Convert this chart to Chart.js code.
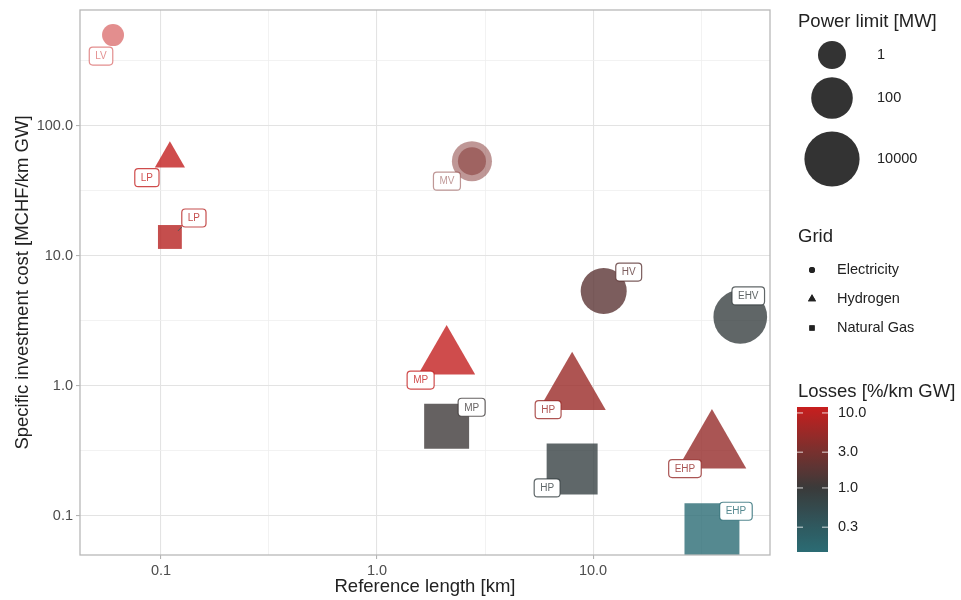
<!DOCTYPE html>
<html>
<head>
<meta charset="utf-8">
<script src="https://cdn.jsdelivr.net/npm/chart.js@4.4.1/dist/chart.umd.min.js"></script>
<style>
  html, body { margin: 0; padding: 0; background: #ffffff; }
  #wrap { width: 961px; height: 600px; position: relative; }
</style>
</head>
<body>
<div id="wrap"><canvas id="chart" width="961" height="600"></canvas></div>
<script>
// ---- data: one entry per grid level ----
const levels     = ['LV', 'LP', 'LP', 'MV', 'MV', 'HV', 'EHV', 'MP', 'MP', 'HP', 'HP', 'EHP', 'EHP'];
const grids      = ['Electricity', 'Hydrogen', 'Natural Gas', 'Electricity', 'Electricity', 'Electricity',
                    'Electricity', 'Hydrogen', 'Natural Gas', 'Hydrogen', 'Natural Gas', 'Hydrogen', 'Natural Gas'];
const refLength  = [0.06, 0.11, 0.11, 2.75, 2.75, 11.2, 48, 2.1, 2.1, 8.0, 8.0, 35.5, 35.5];        // km
const invCost    = [500, 56, 14, 53.6, 53.6, 5.37, 3.4, 1.64, 0.49, 0.92, 0.23, 0.33, 0.077];     // MCHF/km GW
const powerLimit = [0.13, 0.15, 0.7, 60, 1, 450, 6000, 130, 2200, 1700, 22000, 2400, 100000];    // MW
const lossRate   = [12, 11, 9, 3.5, 3.5, 1.8, 0.8, 11, 1.1, 5.5, 0.75, 5, 0.14];                 // %/km GW

// ---- axis and legend breaks ----
const gridTypes   = ['Electricity', 'Hydrogen', 'Natural Gas'];
const xBreaks     = [0.1, 1, 10];
const yBreaks     = [0.1, 1, 10, 100];
const sizeBreaks  = [1, 100, 10000];
const lossBreaks  = [10, 3, 1, 0.3];

// ---- styling ----
const FONT = "'Liberation Sans', Arial, Helvetica, sans-serif";
const xLimits = [0.0422, 65.9];
const yLimits = [0.0501, 780];
const shapeOf = { 'Electricity': 'circle', 'Hydrogen': 'triangle', 'Natural Gas': 'rect' };
// equal-area scaling so the three marker shapes read the same size
const shapeScale = { circle: 1, triangle: 1.5551, rect: 1.2533 };
const translucentLevels = new Set(['LV', 'MV']);
// label placement relative to its marker (px) and whether a leader line is drawn
const labelOffset = [[-12, 21], [-23, 19], [24, -19], [-25, 20], null, [25, -19], [8, -21],
                     [-26, 22], [25, -19], [-24, 19], [-25, 19], [-27, 20], [24, -19.5]];
const labelLeader = [false, false, true, false, false, false, false, false, false, false, false, false, false];

function sizeRadius(p) { return 14 + 3.4 * Math.log10(p); }

const lossMin = Math.min(...lossRate), lossMax = Math.max(...lossRate);
// diverging palette: teal (low) -> dark grey (1 %) -> red (high), on log scale
const paletteStops = [
  [Math.log10(lossMin), [43, 108, 116]],
  [-0.5, [47, 88, 94]],
  [0, [58, 58, 58]],
  [0.5, [122, 48, 46]],
  [Math.log10(lossMax), [200, 30, 30]]
];
function lossRGB(v) {
  const l = Math.max(paletteStops[0][0], Math.min(paletteStops[paletteStops.length - 1][0], Math.log10(v)));
  for (let k = 0; k < paletteStops.length - 1; k++) {
    const [a, ca] = paletteStops[k], [b, cb] = paletteStops[k + 1];
    if (l >= a && l <= b) {
      const t = (l - a) / (b - a);
      return ca.map((c, j) => Math.round(c + (cb[j] - c) * t));
    }
  }
  return paletteStops[paletteStops.length - 1][1];
}
function pointColor(i) {
  const [r, g, b] = lossRGB(lossRate[i]);
  const a = translucentLevels.has(levels[i]) ? 0.5 : 0.8;
  return `rgba(${r},${g},${b},${a})`;
}
function markerRadius(i) {
  return sizeRadius(powerLimit[i]) * shapeScale[shapeOf[grids[i]]];
}

const datasets = gridTypes.map(gt => ({
  label: gt,
  data: levels.map((_, i) => i).filter(i => grids[i] === gt).map(i => ({ x: refLength[i], y: invCost[i], i })),
  pointStyle: shapeOf[gt],
  pointRadius: ctx => markerRadius(ctx.raw.i),
  backgroundColor: ctx => pointColor(ctx.raw.i),
  borderWidth: 0,
  clip: 0
}));

const isMajor = (v, majors) => majors.some(m => Math.abs(Math.log10(v) - Math.log10(m)) < 1e-6);
function logTicks(lo, hi) {
  const out = [];
  for (let e = Math.floor(Math.log10(lo)) - 1; e <= Math.ceil(Math.log10(hi)); e += 0.5) {
    const v = Math.pow(10, e);
    if (v >= lo && v <= hi) out.push(v);
  }
  return out;
}

function roundRect(ctx, x, y, w, h, r) {
  ctx.beginPath();
  ctx.moveTo(x + r, y);
  ctx.lineTo(x + w - r, y); ctx.arcTo(x + w, y, x + w, y + r, r);
  ctx.lineTo(x + w, y + h - r); ctx.arcTo(x + w, y + h, x + w - r, y + h, r);
  ctx.lineTo(x + r, y + h); ctx.arcTo(x, y + h, x, y + h - r, r);
  ctx.lineTo(x, y + r); ctx.arcTo(x, y, x + r, y, r);
  ctx.closePath();
}

const decorations = {
  id: 'decorations',
  afterDatasetsDraw(chart) {
    const ctx = chart.ctx, area = chart.chartArea;
    // level labels
    ctx.save();
    ctx.font = `10px ${FONT}`;
    chart.data.datasets.forEach((ds, d) => {
      chart.getDatasetMeta(d).data.forEach((el, k) => {
        const i = ds.data[k].i;
        const off = labelOffset[i];
        if (!off) return;
        const cx = el.x + off[0], cy = el.y + off[1];
        const tw = ctx.measureText(levels[i]).width;
        const w = tw + 12, h = 18;
        const col = pointColor(i);
        if (labelLeader[i]) {
          ctx.strokeStyle = '#555';
          ctx.lineWidth = 1;
          ctx.beginPath();
          ctx.moveTo(el.x + 8, el.y - 6);
          ctx.lineTo(cx - w / 2, cy + h / 2);
          ctx.stroke();
        }
        roundRect(ctx, cx - w / 2, cy - h / 2, w, h, 3.5);
        ctx.fillStyle = '#ffffff';
        ctx.fill();
        ctx.strokeStyle = col;
        ctx.lineWidth = 1.2;
        ctx.stroke();
        ctx.fillStyle = col;
        ctx.textAlign = 'center';
        ctx.textBaseline = 'middle';
        ctx.fillText(levels[i], cx, cy + 0.5);
      });
    });
    // panel border
    ctx.strokeStyle = '#b8b8b8';
    ctx.lineWidth = 1.3;
    ctx.strokeRect(area.left, area.top, area.right - area.left, area.bottom - area.top);
    ctx.restore();
  },
  afterDraw(chart) {
    const ctx = chart.ctx;
    ctx.save();
    ctx.textAlign = 'left';
    ctx.textBaseline = 'middle';
    const titleFont = `18.5px ${FONT}`, textFont = `14.5px ${FONT}`;
    const ink = '#222222';

    // size legend
    ctx.font = titleFont; ctx.fillStyle = ink;
    ctx.fillText('Power limit [MW]', 798, 22);
    const sizeY = [55, 98, 159];
    sizeBreaks.forEach((p, k) => {
      ctx.beginPath();
      ctx.arc(832, sizeY[k], sizeRadius(p), 0, Math.PI * 2);
      ctx.fillStyle = '#333333';
      ctx.fill();
      ctx.font = textFont; ctx.fillStyle = ink;
      ctx.fillText(String(p), 877, sizeY[k]);
    });

    // shape legend
    ctx.font = titleFont; ctx.fillStyle = ink;
    ctx.fillText('Grid', 798, 237);
    const gridY = [270, 299, 328];
    gridTypes.forEach((gt, k) => {
      const st = shapeOf[gt];
      Chart.helpers.drawPoint(ctx, { pointStyle: st, radius: 3 * shapeScale[st], rotation: 0, borderWidth: 0 }, 812, gridY[k]);
      ctx.fillStyle = '#222222';
      ctx.fill();
      ctx.font = textFont; ctx.fillStyle = ink;
      ctx.fillText(gt, 837, gridY[k]);
    });

    // colour bar
    ctx.font = titleFont; ctx.fillStyle = ink;
    ctx.fillText('Losses [%/km GW]', 798, 392);
    const bx = 797, bw = 31, top = 407, bottom = 552;
    const lTop = Math.log10(lossMax), lBot = Math.log10(lossMin);
    const yOf = v => top + (lTop - Math.log10(v)) / (lTop - lBot) * (bottom - top);
    const grad = ctx.createLinearGradient(0, top, 0, bottom);
    for (let s = 0; s <= 40; s++) {
      const l = lTop - (lTop - lBot) * s / 40;
      const [r, g, b] = lossRGB(Math.pow(10, l));
      grad.addColorStop(s / 40, `rgb(${r},${g},${b})`);
    }
    ctx.fillStyle = grad;
    ctx.fillRect(bx, top, bw, bottom - top);
    ctx.strokeStyle = 'rgba(255,255,255,0.8)';
    ctx.lineWidth = 1;
    ctx.font = textFont;
    lossBreaks.forEach(v => {
      const y = yOf(v);
      ctx.beginPath();
      ctx.moveTo(bx, y); ctx.lineTo(bx + 6, y);
      ctx.moveTo(bx + bw - 6, y); ctx.lineTo(bx + bw, y);
      ctx.stroke();
      ctx.fillStyle = ink;
      ctx.fillText(v.toFixed(1), 838, y);
    });
    ctx.restore();
  }
};

function axisConfig(limits, majors, title, isX) {
  return {
    type: 'logarithmic',
    min: limits[0],
    max: limits[1],
    afterBuildTicks: s => { s.ticks = logTicks(limits[0], limits[1]).map(v => ({ value: v })); },
    afterFit: s => {
      if (isX) s.height = 45; else s.width = 80;
      s.paddingTop = 0; s.paddingBottom = 0; s.paddingLeft = 0; s.paddingRight = 0;
    },
    ticks: {
      autoSkip: false,
      maxRotation: 0,
      padding: 3,
      color: '#4d4d4d',
      font: { family: FONT, size: 14.5 },
      callback: v => isMajor(v, majors) ? Number(v).toFixed(1) : ''
    },
    grid: {
      drawTicks: true,
      tickLength: 4,
      color: c => (c.tick && isMajor(c.tick.value, majors)) ? '#e3e3e3' : '#efefef',
      lineWidth: c => (c.tick && isMajor(c.tick.value, majors)) ? 1.1 : 0.8,
      tickColor: c => (c.tick && isMajor(c.tick.value, majors)) ? '#b3b3b3' : 'rgba(0,0,0,0)',
      tickWidth: 1.1
    },
    border: { display: false },
    title: {
      display: true,
      text: title,
      color: '#222222',
      font: { family: FONT, size: 18.5 },
      padding: isX ? { top: 0, bottom: 2 } : { top: 12, bottom: 0 }
    }
  };
}

new Chart(document.getElementById('chart'), {
  type: 'scatter',
  data: { datasets },
  options: {
    responsive: false,
    devicePixelRatio: 1,
    animation: false,
    events: [],
    layout: { autoPadding: false, padding: { left: 0, right: 191, top: 10, bottom: 0 } },
    plugins: { legend: { display: false }, tooltip: { enabled: false } },
    scales: {
      x: axisConfig(xLimits, xBreaks, 'Reference length [km]', true),
      y: axisConfig(yLimits, yBreaks, 'Specific investment cost [MCHF/km GW]', false)
    }
  },
  plugins: [decorations]
});
</script>
</body>
</html>
